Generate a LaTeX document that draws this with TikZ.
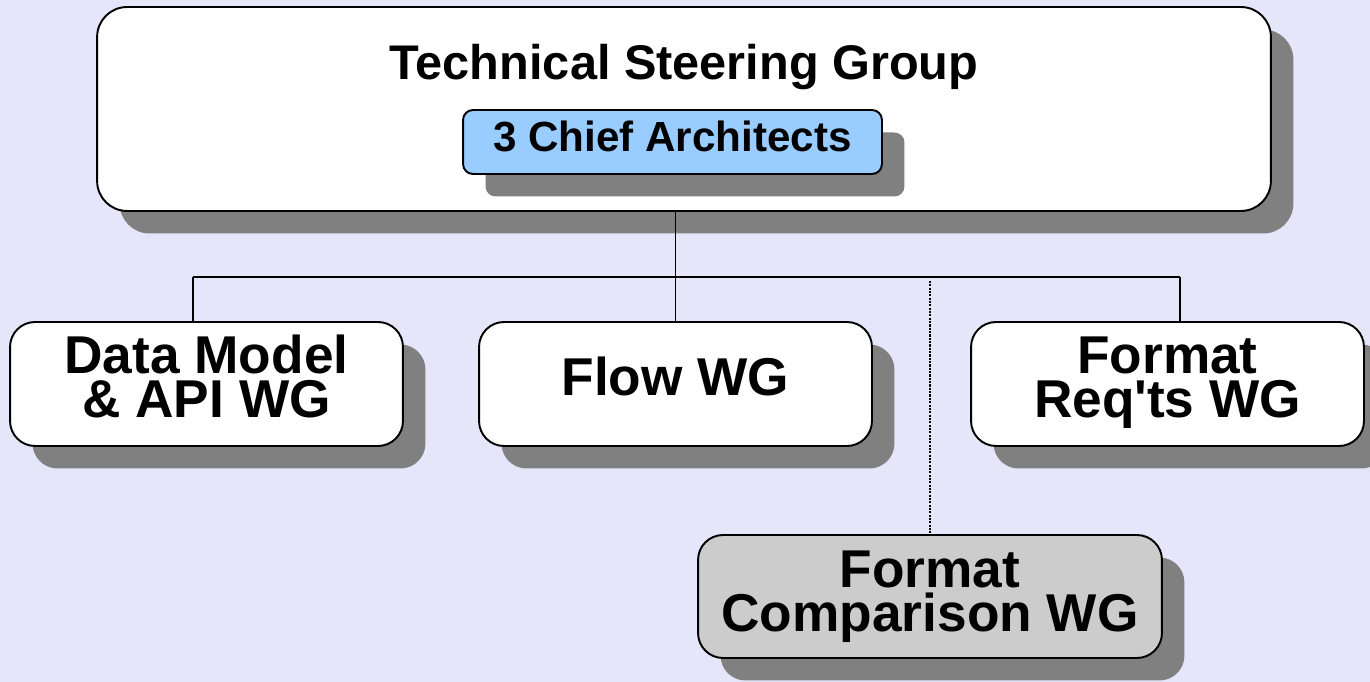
\documentclass[tikz,border=0pt]{standalone}
\usepackage{fontspec}
\setmainfont{Liberation Sans}
\usetikzlibrary{shadows}
\definecolor{pagebg}{RGB}{230,230,250}
\definecolor{shade}{RGB}{128,128,128}
\definecolor{chiefblue}{RGB}{153,204,255}
\definecolor{compgray}{RGB}{204,204,204}
% extra depth under the last line pushes the text up a little
\newcommand{\textlift}[1]{\rule[-#1]{0pt}{0pt}}
\begin{document}
\begin{tikzpicture}[x=0.02cm,y=-0.02cm,
	box/.style={draw,line width=1.1pt,fill=white,rounded corners=0.5cm,align=center,inner sep=0pt,
		general shadow={fill=shade,shadow xshift=0.45cm,shadow yshift=-0.45cm},
		font=\fontsize{30.3}{25}\selectfont\bfseries},
	wg/.style={box,minimum width=7.86cm,minimum height=2.48cm}]
	\fill[pagebg] (0,0) rectangle (1370,682);
	% steering group with the architects inside
	\node[box,minimum width=23.48cm,minimum height=4.08cm,rounded corners=0.6cm] (tsg) at (684,109) {};
	\node[font=\fontsize{27.7}{30}\selectfont\bfseries] (tsgname) at (684,67) {Technical Steering Group};
	\node[box,fill=chiefblue,minimum width=8.38cm,minimum height=1.28cm,rounded corners=0.2cm,
		font=\fontsize{24}{26}\selectfont\bfseries] (chief) at (672.5,142) {3 Chief Architects\textlift{7pt}};
	% working groups
	\node[wg] (dm) at (206.5,384) {Data Model\\\& API WG\textlift{9pt}};
	\node[wg] (flow) at (675.5,384) {Flow WG\textlift{9pt}};
	\node[wg] (req) at (1167.5,384) {Format\\Req\textquotesingle ts WG\textlift{8pt}};
	\node[wg,fill=compgray,minimum width=9.28cm,minimum height=2.46cm] (comp) at (930,596.5) {Format\\Comparison WG\textlift{5pt}};
	% connectors
	\coordinate (bl) at (193,277);
	\coordinate (br) at (1180,277);
	\coordinate (cl) at (930,281);
	\draw[line width=0.8pt] (flow.north |- tsg.south) -- (flow.north);
	\draw[line width=0.8pt] (bl) -- (br);
	\draw[line width=0.8pt] (bl) -- (bl |- dm.north);
	\draw[line width=0.8pt] (br) -- (br |- req.north);
	\draw[line width=0.9pt,dash pattern=on 1.2pt off 0.7pt] (cl) -- (comp.north);
\end{tikzpicture}
\end{document}
